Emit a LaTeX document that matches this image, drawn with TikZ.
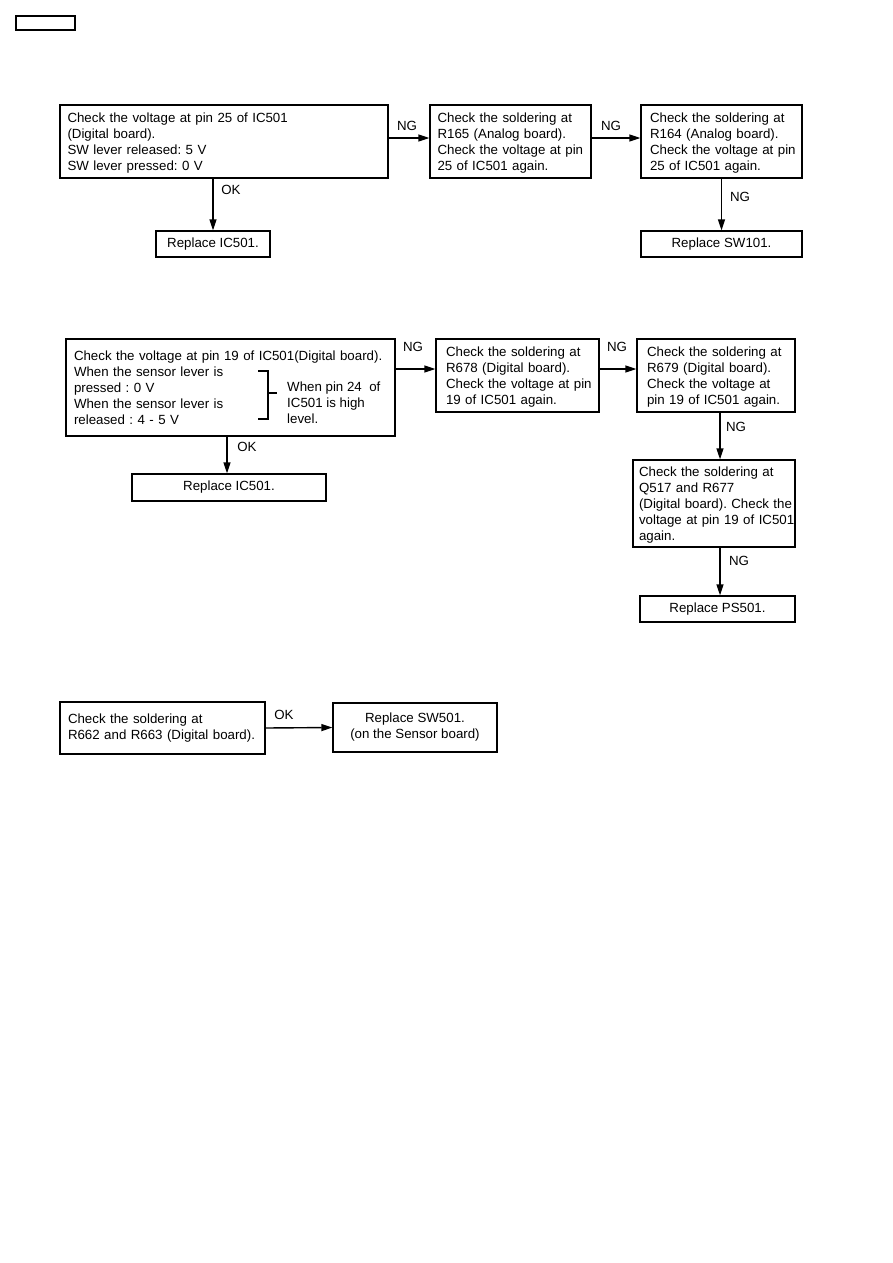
\documentclass[tikz,border=0pt]{standalone}
\usepackage{fontspec}
\setmainfont{Liberation Sans}
\usetikzlibrary{arrows.meta}
\frenchspacing
\newcommand\mlines[1]{\begin{tabular}{@{}l@{}}\rule{0pt}{15pt}#1\end{tabular}}
\newcommand\mlinesplain[1]{\begin{tabular}{@{}l@{}}#1\end{tabular}}
\begin{document}
\begin{tikzpicture}[x=1pt,y=-1pt,
  every node/.style={font=\fontsize{13.3}{16}\selectfont\frenchspacing, text=black},
  box/.style={draw, line width=1.3pt, inner ysep=0pt, align=left},
  cbox/.style={draw, line width=1.3pt, inner sep=0pt, align=center},
  lbl/.style={inner sep=0pt},
  arr/.style={line width=1.4pt, -{Triangle[length=11pt,width=7pt]}}]
\useasboundingbox (0,0) rectangle (893,1263);
\fill[white] (0,0) rectangle (893,1263);
\draw[line width=1.3pt] (16,16) rectangle (75,30);

% ---------- section 1 ----------
\node[box, minimum width=328pt, minimum height=73pt, inner xsep=7.5pt, text width=313pt] (A) at (224,141.5)
  {\mlines{Check the voltage at pin 25 of IC501\\(Digital board).\\SW lever released: 5 V\\SW lever pressed: 0 V}};
\node[box, minimum width=161pt, minimum height=73pt, inner xsep=7.5pt, text width=146pt] (B) at (510.5,141.5)
  {\mlines{Check the soldering at\\R165 (Analog board).\\Check the voltage at pin\\25 of IC501 again.}};
\node[box, minimum width=161pt, minimum height=73pt, inner xsep=9pt, text width=143pt] (C) at (721.5,141.5)
  {\mlines{Check the soldering at\\R164 (Analog board).\\Check the voltage at pin\\25 of IC501 again.}};
\node[cbox, minimum width=114pt, minimum height=26pt] (R1) at (213,244) {Replace IC501.};
\node[cbox, minimum width=161pt, minimum height=26pt] (S1) at (721.5,244) {Replace SW101.};

\draw[arr] ([yshift=3.5pt]A.east) -- ([yshift=3.5pt]B.west);
\draw[arr] ([yshift=3.5pt]B.east) -- ([yshift=3.5pt]C.west);
\draw[arr] (R1.north |- A.south) -- (R1.north);
\draw[arr] (C.south) -- (S1.north);
\node[lbl] (ng1) at (407,126) {NG};
\node[lbl] (ng2) at (611,126) {NG};
\node[lbl] (ok1) at (231,190) {OK};
\node[lbl] (ng3) at (740,197) {NG};

% ---------- section 2 ----------
\node[box, minimum width=329pt, minimum height=97pt, inner xsep=8pt, text width=313pt] (D) at (230.5,387.5)
  {\mlines{Check the voltage at pin 19 of IC501(Digital board).\\When the sensor lever is\\pressed : 0 V\\When the sensor lever is\\released : 4 - 5 V}};
\node[lbl, align=left, anchor=west] (Dn) at (287,403)
  {When pin 24\ \ of\\IC501 is high\\level.};
\draw[line width=1.2pt] (258,371) -- (268,371) -- (268,419) -- (258,419);
\draw[line width=1.2pt] (268,393) -- (277,393);

\node[box, minimum width=163pt, minimum height=73pt, inner xsep=10pt, text width=143pt] (E) at (517.5,375.5)
  {\mlines{Check the soldering at\\R678 (Digital board).\\Check the voltage at pin\\19 of IC501 again.}};
\node[box, minimum width=158pt, minimum height=73pt, inner xsep=10pt, text width=138pt] (F) at (716,375.5)
  {\mlines{Check the soldering at\\R679 (Digital board).\\Check the voltage at\\pin 19 of IC501 again.}};
\node[box, minimum width=162pt, minimum height=87pt, inner xsep=6pt, text width=150pt] (G) at (714,503.5)
  {\mlines{Check the soldering at\\Q517 and R677\\(Digital board). Check the\\voltage at pin 19 of IC501\\again.}};
\node[cbox, minimum width=155pt, minimum height=26pt] (H) at (717.5,609) {Replace PS501.};
\node[cbox, minimum width=194pt, minimum height=27pt] (R2) at (229,487.5) {Replace IC501.};

\draw[arr] ([yshift=18.5pt]D.east) -- ([yshift=6.5pt]E.west);
\draw[arr] ([yshift=6.5pt]E.east) -- ([yshift=6.5pt]F.west);
\draw[arr] ([xshift=4pt]F.south) -- ([xshift=6pt]G.north);
\draw[arr] ([xshift=6pt]G.south) -- ([xshift=2.5pt]H.north);
\draw[arr] ([xshift=-2pt]R2.north |- D.south) -- ([xshift=-2pt]R2.north);
\node[lbl] (ng4) at (413,347) {NG};
\node[lbl] (ng5) at (617,347) {NG};
\node[lbl] (ng6) at (736,427) {NG};
\node[lbl] (ng7) at (739,561) {NG};
\node[lbl] (ok2) at (247,447) {OK};

% ---------- section 3 ----------
\node[box, minimum width=205pt, minimum height=52pt, inner xsep=8pt, text width=189pt] (I) at (162.5,728)
  {\mlinesplain{Check the soldering at\\R662 and R663 (Digital board).}};
\node[cbox, minimum width=164pt, minimum height=49pt] (J) at (415,727.5)
  {Replace SW501.\\(on the Sensor board)};
\draw[arr] (I.east) -- (J.west);
\node[lbl] (ok3) at (284,715) {OK};
\end{tikzpicture}
\end{document}
